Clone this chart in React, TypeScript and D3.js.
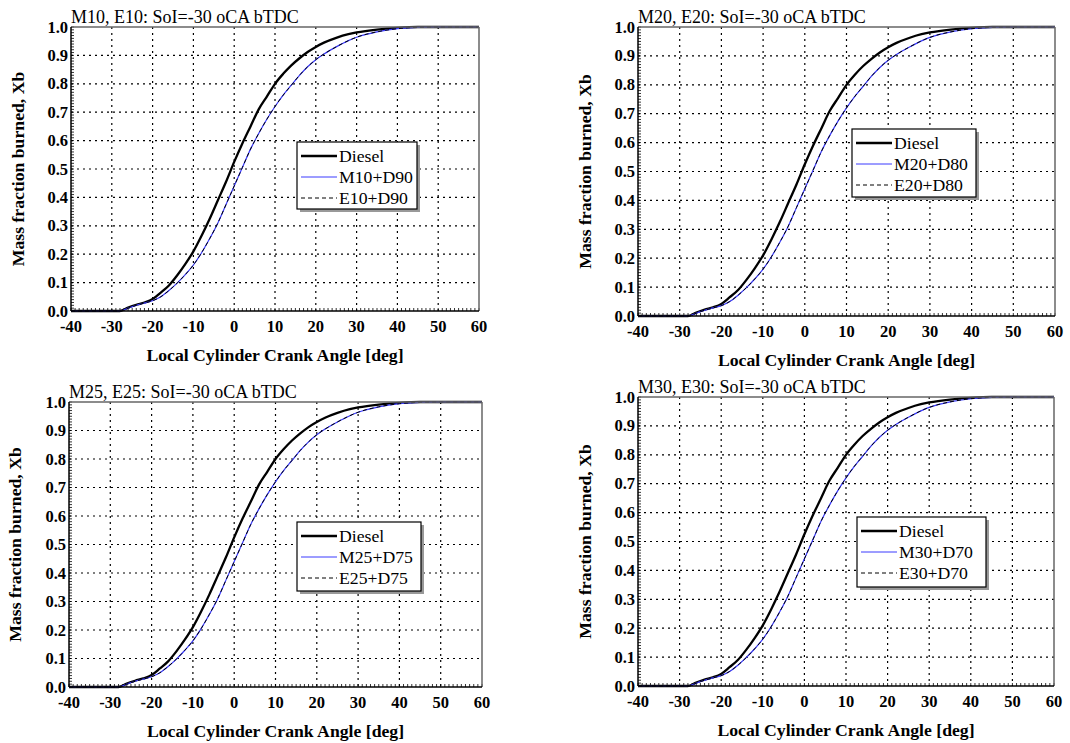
import React from "react";
import * as d3 from "d3";

// crank angle samples [deg]
const angles = [-40, -30, -28, -26, -24, -22, -20, -18, -16, -14, -12, -10, -8, -6, -4, -2, 0, 2, 4, 6, 8, 10, 12, 14, 16, 18, 20, 22, 25, 28, 30, 35, 40, 45, 50, 60];

// mass fraction burned, Diesel
const diesel = [0, 0, 0, 0.012, 0.022, 0.03, 0.042, 0.065, 0.09, 0.125, 0.165, 0.21, 0.265, 0.325, 0.39, 0.455, 0.525, 0.59, 0.65, 0.71, 0.755, 0.8, 0.835, 0.865, 0.89, 0.912, 0.93, 0.945, 0.962, 0.975, 0.981, 0.991, 0.997, 1.0, 1.0, 1.0];

// mass fraction burned, methanol blends
const methanolBlend = [0, 0, 0, 0.01, 0.02, 0.028, 0.036, 0.05, 0.072, 0.098, 0.128, 0.162, 0.205, 0.255, 0.31, 0.375, 0.44, 0.505, 0.57, 0.625, 0.675, 0.72, 0.76, 0.795, 0.83, 0.86, 0.885, 0.905, 0.93, 0.952, 0.964, 0.983, 0.994, 0.999, 1.0, 1.0];

// mass fraction burned, ethanol blends
const ethanolBlend = [0, 0, 0, 0.01, 0.02, 0.028, 0.036, 0.05, 0.072, 0.098, 0.128, 0.162, 0.205, 0.255, 0.31, 0.375, 0.44, 0.505, 0.57, 0.625, 0.675, 0.72, 0.76, 0.795, 0.83, 0.86, 0.885, 0.905, 0.93, 0.952, 0.964, 0.983, 0.994, 0.999, 1.0, 1.0];

const panelTitles = ["M10, E10: SoI=-30 oCA bTDC", "M20, E20: SoI=-30 oCA bTDC", "M25, E25: SoI=-30 oCA bTDC", "M30, E30: SoI=-30 oCA bTDC"];
const methanolNames = ["M10+D90", "M20+D80", "M25+D75", "M30+D70"];
const ethanolNames = ["E10+D90", "E20+D80", "E25+D75", "E30+D70"];

const xTicks = [-40, -30, -20, -10, 0, 10, 20, 30, 40, 50, 60];
const yTicks = [0, 0.1, 0.2, 0.3, 0.4, 0.5, 0.6, 0.7, 0.8, 0.9, 1.0];

const xLabel = "Local Cylinder Crank Angle [deg]";
const yLabel = "Mass fraction burned, Xb";

const layouts = [
  { l: 71, r: 479, t: 27, b: 311, lx: 297, ly: 142, lw: 120, lh: 67, ylx: 20 },
  { l: 638, r: 1055, t: 27, b: 316, lx: 852, ly: 129, lw: 124, lh: 68, ylx: 587 },
  { l: 69, r: 482, t: 402, b: 687, lx: 297, ly: 522, lw: 124, lh: 69, ylx: 17 },
  { l: 638, r: 1054, t: 397, b: 686, lx: 857, ly: 517, lw: 129, lh: 70, ylx: 587 },
];

const FONT = "'Liberation Serif', 'Times New Roman', serif";
const BLUE = "#3a3aff";

function Panel({ idx }: { idx: number }) {
  const L = layouts[idx];
  const x = d3.scaleLinear().domain([-40, 60]).range([L.l, L.r]);
  const y = d3.scaleLinear().domain([0, 1]).range([L.b, L.t]);
  const pts = (vals: number[]) => angles.map((a, i) => [a, vals[i]] as [number, number]);
  const line = d3
    .line<[number, number]>()
    .x((d) => x(d[0]))
    .y((d) => y(d[1]))
    .curve(d3.curveMonotoneX);
  const minorX = d3.range(-40, 61, 1);
  const minorY = d3.range(0, 101, 1).map((v) => v / 100);
  const legendRows = [
    { name: "Diesel", color: "#000", w: 2.5, dash: "" },
    { name: methanolNames[idx], color: BLUE, w: 1, dash: "" },
    { name: ethanolNames[idx], color: "#000", w: 1, dash: "4,3" },
  ];
  const cx = (L.l + L.r) / 2;
  const cy = (L.t + L.b) / 2;
  return (
    <g>
      <rect x={L.l} y={L.t} width={L.r - L.l} height={L.b - L.t} fill="#fff" />
      {xTicks.slice(1, -1).map((v) => (
        <line key={"gx" + v} x1={x(v)} x2={x(v)} y1={L.t} y2={L.b} stroke="#000" strokeWidth={1.2} strokeDasharray="2,4" />
      ))}
      {yTicks.slice(1, -1).map((v) => (
        <line key={"gy" + v} x1={L.l} x2={L.r} y1={y(v)} y2={y(v)} stroke="#000" strokeWidth={1.2} strokeDasharray="2,4" />
      ))}
      {minorX.map((v) => (
        <line key={"mx" + v} x1={x(v)} x2={x(v)} y1={L.b} y2={L.b - 3} stroke="#000" strokeWidth={0.8} />
      ))}
      {minorY.map((v) => (
        <line key={"my" + v} x1={L.l} x2={L.l + 3} y1={y(v)} y2={y(v)} stroke="#000" strokeWidth={0.8} />
      ))}
      <path d={line(pts(diesel)) || ""} fill="none" stroke="#000" strokeWidth={2.3} />
      <path d={line(pts(methanolBlend)) || ""} fill="none" stroke={BLUE} strokeWidth={1.2} />
      <path d={line(pts(ethanolBlend)) || ""} fill="none" stroke="#000" strokeWidth={1} strokeDasharray="4,3" />
      <line x1={L.l} x2={L.r} y1={L.t} y2={L.t} stroke="#666" strokeWidth={1.5} />
      <line x1={L.r} x2={L.r} y1={L.t} y2={L.b} stroke="#666" strokeWidth={1.5} />
      <line x1={L.l} x2={L.l} y1={L.t} y2={L.b} stroke="#000" strokeWidth={1.5} />
      <line x1={L.l} x2={L.r} y1={L.b} y2={L.b} stroke="#000" strokeWidth={1.5} />
      {xTicks.map((v) => (
        <text key={"tx" + v} x={x(v)} y={L.b + 21} textAnchor="middle" fontFamily={FONT} fontSize={16.5} fontWeight="bold">
          {v}
        </text>
      ))}
      {yTicks.map((v) => (
        <text key={"ty" + v} x={L.l - 3} y={y(v) + 5.5} textAnchor="end" fontFamily={FONT} fontSize={16.5} fontWeight="bold">
          {v.toFixed(1)}
        </text>
      ))}
      <text x={L.l} y={L.t - 4} fontFamily={FONT} fontSize={18}>
        {panelTitles[idx]}
      </text>
      <text x={cx} y={L.b + 50} textAnchor="middle" fontFamily={FONT} fontSize={17.7} fontWeight="bold">
        {xLabel}
      </text>
      <text transform={`translate(${L.ylx + 4},${cy}) rotate(-90)`} textAnchor="middle" fontFamily={FONT} fontSize={17.7} fontWeight="bold">
        {yLabel}
      </text>
      <g>
        <rect x={L.lx + 3} y={L.ly + 3} width={L.lw} height={L.lh} fill="#999" />
        <rect x={L.lx} y={L.ly} width={L.lw} height={L.lh} fill="#fff" stroke="#000" strokeWidth={1.2} />
        {legendRows.map((r, i) => {
          const ry = L.ly + 14 + i * 21;
          return (
            <g key={r.name}>
              <line x1={L.lx + 4} x2={L.lx + 40} y1={ry} y2={ry} stroke={r.color} strokeWidth={r.w} strokeDasharray={r.dash || undefined} />
              <text x={L.lx + 42} y={ry + 6} fontFamily={FONT} fontSize={17.7}>
                {r.name}
              </text>
            </g>
          );
        })}
      </g>
    </g>
  );
}

export default function App() {
  return (
    <svg width={1070} height={743} style={{ position: "absolute", left: 0, top: 0, background: "#fff" }}>
      <rect width={1070} height={743} fill="#fff" />
      {[0, 1, 2, 3].map((i) => (
        <Panel key={i} idx={i} />
      ))}
    </svg>
  );
}
